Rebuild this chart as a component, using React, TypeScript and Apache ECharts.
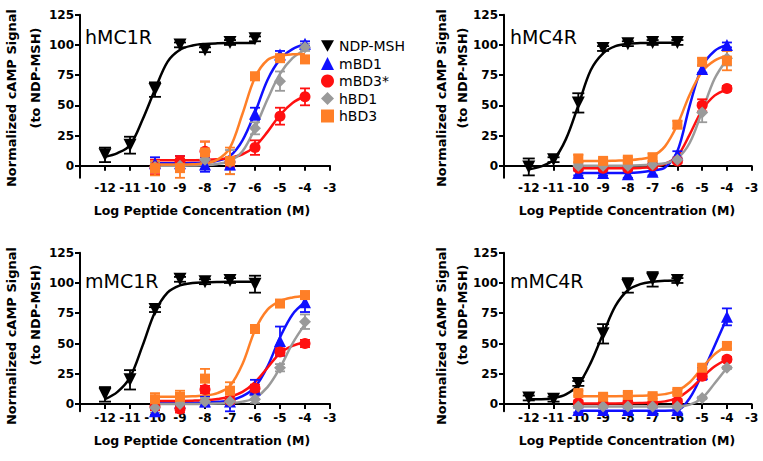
import React, { useEffect, useRef } from "react";
import * as echarts from "echarts";

// ---- shared x positions (log M) ----
const ndpX = [-12, -11, -10, -9, -8, -7, -6];
const peptideX = [-10, -9, -8, -7, -6, -5, -4];
const ndpFitX = [-12, -11.5, -11, -10.5, -10, -9.5, -9, -8.5, -8, -7.5, -7, -6.5, -6];
const peptideFitX = [-10, -9.5, -9, -8.5, -8, -7.5, -7, -6.5, -6, -5.5, -5, -4.5, -4];

const seriesNames = ["NDP-MSH", "mBD1", "mBD3*", "hBD1", "hBD3"];
const seriesColors = ["#000000", "#1010ff", "#ff1010", "#9a9a9a", "#ff7f27"];
const yTicks = [0, 25, 50, 75, 100, 125];
const xTitle = "Log Peptide Concentration (M)";
const yTitle1 = "Normalized cAMP Signal";
const yTitle2 = "(to NDP-MSH)";

// ---- hMC1R ----
const hMC1R_NDP = [9, 17, 63, 100, 96, 102, 105];
const hMC1R_NDP_err = [6, 7, 6, 2, 2, 2, 2];
const hMC1R_NDP_fit = [7.5, 10.5, 17, 38, 63, 86, 96, 99.5, 100.8, 101.3, 101.5, 101.6, 101.6];
const hMC1R_mBD1 = [2, 2, 1, 1, 43, 92, 101];
const hMC1R_mBD1_err = [5, 6, 6, 4, 5, 3, 2];
const hMC1R_mBD1_fit = [2, 2, 2, 2.2, 2.6, 4, 8, 21, 44, 71, 88, 96.5, 100.5];
const hMC1R_mBD3 = [-1, 4, 12, 3, 15, 41, 57];
const hMC1R_mBD3_err = [6, 4, 8, 4, 6, 7, 7];
const hMC1R_mBD3_fit = [4.5, 4.5, 4.5, 4.6, 4.8, 5.3, 6.5, 9.5, 16, 28, 42, 52, 57.5];
const hMC1R_hBD1 = [-1, 0, 5, 3, 31, 70, 98];
const hMC1R_hBD1_err = [4, 5, 8, 10, 5, 8, 3];
const hMC1R_hBD1_fit = [0, 0, 0, 0.2, 0.5, 1.5, 4, 12, 31, 55, 76, 89, 96];
const hMC1R_hBD3 = [-2, -2, 11, 4, 74, 89, 88];
const hMC1R_hBD3_err = [6, 8, 9, 11, 3, 3, 2];
const hMC1R_hBD3_fit = [1, 1, 1, 1.2, 2, 5, 15, 43, 73, 87.5, 91, 92.2, 92.5];

// ---- hMC4R ----
const hMC4R_NDP = [-1, 5, 52, 97, 101, 102, 102];
const hMC4R_NDP_err = [7, 2, 8, 2, 2, 2, 2];
const hMC4R_NDP_fit = [-3, -0.5, 5, 22, 50, 79, 93, 99, 101, 101.5, 101.7, 101.8, 101.8];
const hMC4R_mBD1 = [-6, -6, -7, -5, 9, 80, 100];
const hMC4R_mBD1_err = [2, 2, 3, 3, 3, 3, 2];
const hMC4R_mBD1_fit = [-6, -6, -6, -6, -6, -5.5, -4, -1.5, 12, 50, 82, 95, 100];
const hMC4R_mBD3 = [-2, -2, -2, 0, 4, 50, 64];
const hMC4R_mBD3_err = [2, 2, 2, 2, 2, 5, 2];
const hMC4R_mBD3_fit = [-2, -2, -2, -2, -2, -1.8, -1, 1.5, 8, 26, 46, 58, 63];
const hMC4R_hBD1 = [0, 0, 0, 1, 5, 44, 89];
const hMC4R_hBD1_err = [2, 2, 2, 2, 2, 8, 6];
const hMC4R_hBD1_fit = [0, 0, 0, 0, 0, 0.3, 1, 2, 6, 19, 45, 72, 88];
const hMC4R_hBD3 = [6, 4, 5, 7, 34, 86, 87];
const hMC4R_hBD3_err = [3, 2, 2, 3, 3, 3, 8];
const hMC4R_hBD3_fit = [4, 4, 4, 4.2, 4.5, 5.5, 8, 16, 34, 59, 78, 87, 91];

// ---- mMC1R ----
const mMC1R_NDP = [8, 20, 78, 103, 101, 102, 99];
const mMC1R_NDP_err = [6, 8, 2, 2, 2, 2, 7];
const mMC1R_NDP_fit = [4, 10, 22, 48, 76, 92, 98, 100, 100.5, 100.8, 101, 101, 101];
const mMC1R_mBD1 = [-6, 1, 2, 2, 12, 52, 84];
const mMC1R_mBD1_err = [3, 3, 4, 8, 8, 12, 8];
const mMC1R_mBD1_fit = [1, 1, 1, 1.1, 1.3, 1.8, 3, 6.5, 14, 31, 55, 74, 84];
const mMC1R_mBD3 = [-2, -4, 12, 3, 13, 43, 50];
const mMC1R_mBD3_err = [3, 3, 3, 3, 3, 3, 3];
const mMC1R_mBD3_fit = [2.5, 2.5, 2.6, 2.8, 3.2, 4.2, 6, 10, 18, 30, 42, 48, 51];
const mMC1R_hBD1 = [-3, 0, 2, 2, 4, 30, 68];
const mMC1R_hBD1_err = [4, 3, 3, 3, 3, 3, 6];
const mMC1R_hBD1_fit = [0, 0, 0, 0, 0.2, 0.4, 0.8, 2, 5, 14, 30, 50, 66];
const mMC1R_hBD3 = [4, 6, 21, 11, 62, 83, 90];
const mMC1R_hBD3_err = [5, 5, 8, 7, 3, 2, 3];
const mMC1R_hBD3_fit = [6, 6, 6.1, 6.4, 7, 9, 15, 33, 61, 78, 85, 88, 89.5];

// ---- mMC4R ----
const mMC4R_NDP = [5, 4, 17, 58, 98, 103, 102];
const mMC4R_NDP_err = [2, 2, 2, 8, 6, 6, 2];
const mMC4R_NDP_fit = [4, 4, 5, 8, 16, 34, 58, 81, 94, 99, 101, 101.8, 102];
const mMC4R_mBD1 = [-5, -5, -5, -5, -5, 25, 72];
const mMC4R_mBD1_err = [2, 2, 2, 2, 2, 5, 7];
const mMC4R_mBD1_fit = [-5.5, -5.5, -5.5, -5.5, -5.5, -5.5, -5.5, -5.5, -5, 5, 25, 48, 71];
const mMC4R_mBD3 = [1, 0, 1, 0, 2, 23, 37];
const mMC4R_mBD3_err = [2, 2, 2, 2, 2, 2, 2];
const mMC4R_mBD3_fit = [0.5, 0.5, 0.5, 0.5, 0.6, 0.8, 1.2, 2.2, 5, 12, 22, 31, 37];
const mMC4R_hBD1 = [-2, -2, -2, -2, -2, 5, 30];
const mMC4R_hBD1_err = [1, 1, 1, 1, 1, 1, 1];
const mMC4R_hBD1_fit = [-2, -2, -2, -2, -2, -2, -2, -2, -2, -0.5, 5, 17, 30];
const mMC4R_hBD3 = [9, 6, 7.5, 6.5, 10, 30, 48];
const mMC4R_hBD3_err = [2, 2, 2, 2, 2, 2, 2];
const mMC4R_hBD3_fit = [6.5, 6.5, 6.5, 6.5, 6.6, 6.8, 7.2, 8.2, 11, 18, 30, 41, 48];

const panels = [
  {
    title: "hMC1R",
    means: [hMC1R_NDP, hMC1R_mBD1, hMC1R_mBD3, hMC1R_hBD1, hMC1R_hBD3],
    errs: [hMC1R_NDP_err, hMC1R_mBD1_err, hMC1R_mBD3_err, hMC1R_hBD1_err, hMC1R_hBD3_err],
    fits: [hMC1R_NDP_fit, hMC1R_mBD1_fit, hMC1R_mBD3_fit, hMC1R_hBD1_fit, hMC1R_hBD3_fit],
  },
  {
    title: "hMC4R",
    means: [hMC4R_NDP, hMC4R_mBD1, hMC4R_mBD3, hMC4R_hBD1, hMC4R_hBD3],
    errs: [hMC4R_NDP_err, hMC4R_mBD1_err, hMC4R_mBD3_err, hMC4R_hBD1_err, hMC4R_hBD3_err],
    fits: [hMC4R_NDP_fit, hMC4R_mBD1_fit, hMC4R_mBD3_fit, hMC4R_hBD1_fit, hMC4R_hBD3_fit],
  },
  {
    title: "mMC1R",
    means: [mMC1R_NDP, mMC1R_mBD1, mMC1R_mBD3, mMC1R_hBD1, mMC1R_hBD3],
    errs: [mMC1R_NDP_err, mMC1R_mBD1_err, mMC1R_mBD3_err, mMC1R_hBD1_err, mMC1R_hBD3_err],
    fits: [mMC1R_NDP_fit, mMC1R_mBD1_fit, mMC1R_mBD3_fit, mMC1R_hBD1_fit, mMC1R_hBD3_fit],
  },
  {
    title: "mMC4R",
    means: [mMC4R_NDP, mMC4R_mBD1, mMC4R_mBD3, mMC4R_hBD1, mMC4R_hBD3],
    errs: [mMC4R_NDP_err, mMC4R_mBD1_err, mMC4R_mBD3_err, mMC4R_hBD1_err, mMC4R_hBD3_err],
    fits: [mMC4R_NDP_fit, mMC4R_mBD1_fit, mMC4R_mBD3_fit, mMC4R_hBD1_fit, mMC4R_hBD3_fit],
  },
];

// layout (pixels)
const grids = [
  { left: 80, top: 14.7, width: 250, height: 163.1 },
  { left: 504, top: 14.7, width: 247.7, height: 163.1 },
  { left: 80, top: 252.7, width: 250, height: 158.6 },
  { left: 504, top: 252.7, width: 247.7, height: 158.6 },
];
const yMins = [-10, -10, -6, -6];
const xLabelMargins = [4, 4, 1, 1];
const symbolShapes = ["triangle", "triangle", "circle", "diamond", "rect"];
const symbolRot = [180, 0, 0, 0, 0];
const symbolSizes = [13, 12, 11, 12, 10];
const FONT = "DejaVu Sans";

function buildOption() {
  const series: any[] = [];
  const xAxes: any[] = [];
  const yAxes: any[] = [];
  const graphics: any[] = [];

  panels.forEach((p, i) => {
    xAxes.push({
      type: "value",
      gridIndex: i,
      min: -13,
      max: -3,
      interval: 1,
      axisLine: { onZero: true, lineStyle: { color: "#000", width: 2 } },
      axisTick: { show: true, length: 5, inside: false, lineStyle: { color: "#000", width: 2 } },
      axisLabel: {
        color: "#000",
        fontFamily: FONT,
        fontWeight: "bold",
        fontSize: 12,
        margin: xLabelMargins[i],
        formatter: (v: number) => (v === -13 ? "" : String(v)),
      },
      splitLine: { show: false },
    });
    yAxes.push({
      type: "value",
      gridIndex: i,
      min: yMins[i],
      max: 125,
      axisLine: { show: true, onZero: false, lineStyle: { color: "#000", width: 2 } },
      axisTick: { show: true, length: 5, customValues: yTicks, lineStyle: { color: "#000", width: 2 } },
      axisLabel: {
        color: "#000",
        fontFamily: FONT,
        fontWeight: "bold",
        fontSize: 12,
        margin: 6,
        customValues: yTicks,
      },
      splitLine: { show: false },
    });

    p.means.forEach((m, k) => {
      const isNdp = k === 0;
      const xs = isNdp ? ndpX : peptideX;
      const fx = isNdp ? ndpFitX : peptideFitX;
      const color = seriesColors[k];
      series.push({
        type: "line",
        id: `fit-${i}-${k}`,
        xAxisIndex: i,
        yAxisIndex: i,
        data: fx.map((x, j) => [x, p.fits[k][j]]),
        showSymbol: false,
        smooth: 0.35,
        silent: true,
        clip: false,
        lineStyle: { color, width: 2.5 },
        z: 2,
      });
      series.push({
        type: "custom",
        id: `err-${i}-${k}`,
        xAxisIndex: i,
        yAxisIndex: i,
        silent: true,
        clip: false,
        data: xs.map((x, j) => [x, m[j] - p.errs[k][j], m[j] + p.errs[k][j]]),
        encode: { x: 0, y: [1, 2] },
        renderItem: (params: any, api: any) => {
          const x = api.value(0);
          const lo = api.coord([x, api.value(1)]);
          const hi = api.coord([x, api.value(2)]);
          const w = isNdp ? 6 : 5;
          const style = { stroke: color, lineWidth: 1.8 };
          return {
            type: "group",
            children: [
              { type: "line", shape: { x1: lo[0], y1: lo[1], x2: hi[0], y2: hi[1] }, style },
              { type: "line", shape: { x1: lo[0] - w, y1: lo[1], x2: lo[0] + w, y2: lo[1] }, style },
              { type: "line", shape: { x1: hi[0] - w, y1: hi[1], x2: hi[0] + w, y2: hi[1] }, style },
            ],
          };
        },
        z: 3,
      });
      series.push({
        type: "scatter",
        name: seriesNames[k],
        xAxisIndex: i,
        yAxisIndex: i,
        data: xs.map((x, j) => [x, m[j]]),
        symbol: symbolShapes[k],
        symbolRotate: symbolRot[k],
        symbolSize: symbolSizes[k],
        itemStyle: { color, opacity: 1 },
        silent: true,
        clip: false,
        z: 4,
      });
    });
  });

  // texts
  const titlePos = [
    { x: 85, y: 37 },
    { x: 510, y: 37 },
    { x: 85, y: 281 },
    { x: 510, y: 281 },
  ];
  const yTitlePos = [
    { x1: 11.7, y1: 98, x2: 35.5, y2: 78 },
    { x1: 441, y1: 98, x2: 462, y2: 78 },
    { x1: 11.7, y1: 336, x2: 35.5, y2: 315 },
    { x1: 441, y1: 336, x2: 462, y2: 315 },
  ];
  const xTitlePos = [
    { x: 202, y: 210 },
    { x: 627, y: 210 },
    { x: 202, y: 440 },
    { x: 627, y: 440 },
  ];
  panels.forEach((p, i) => {
    graphics.push({
      type: "text",
      x: titlePos[i].x,
      y: titlePos[i].y,
      style: { text: p.title, fontFamily: FONT, fontSize: 19, fill: "#000", textVerticalAlign: "middle" },
    });
    graphics.push({
      type: "text",
      x: yTitlePos[i].x1,
      y: yTitlePos[i].y1,
      rotation: Math.PI / 2,
      style: {
        text: yTitle1,
        fontFamily: FONT,
        fontWeight: "bold",
        fontSize: 13,
        fill: "#000",
        textAlign: "center",
        textVerticalAlign: "middle",
      },
    });
    graphics.push({
      type: "text",
      x: yTitlePos[i].x2,
      y: yTitlePos[i].y2,
      rotation: Math.PI / 2,
      style: {
        text: yTitle2,
        fontFamily: FONT,
        fontWeight: "bold",
        fontSize: 13,
        fill: "#000",
        textAlign: "center",
        textVerticalAlign: "middle",
      },
    });
    graphics.push({
      type: "text",
      x: xTitlePos[i].x,
      y: xTitlePos[i].y,
      style: {
        text: xTitle,
        fontFamily: FONT,
        fontWeight: "bold",
        fontSize: 12.5,
        fill: "#000",
        textAlign: "center",
        textVerticalAlign: "middle",
      },
    });
  });

  return {
    animation: false,
    backgroundColor: "#ffffff",
    grid: grids.map((g) => ({ ...g, containLabel: false })),
    xAxis: xAxes,
    yAxis: yAxes,
    legend: {
      data: [
        { name: "NDP-MSH", icon: "path://M0,0L10,0L5,9Z" },
        { name: "mBD1", icon: "triangle" },
        { name: "mBD3*", icon: "circle" },
        { name: "hBD1", icon: "diamond" },
        { name: "hBD3", icon: "rect" },
      ],
      orient: "vertical",
      left: 316,
      top: 34,
      itemWidth: 13,
      itemHeight: 13,
      itemGap: 3.5,
      selectedMode: false,
      textStyle: { fontFamily: FONT, fontSize: 14, color: "#000" },
    },
    graphic: graphics,
    series,
  };
}

export default function App() {
  const ref = useRef<HTMLDivElement>(null);
  useEffect(() => {
    if (!ref.current) return;
    const chart = echarts.init(ref.current, null, { renderer: "svg" });
    chart.setOption(buildOption() as any);
    return () => chart.dispose();
  }, []);
  return (
    <div
      ref={ref}
      style={{ position: "fixed", left: 0, top: 0, width: 763, height: 461, background: "#fff" }}
    />
  );
}
